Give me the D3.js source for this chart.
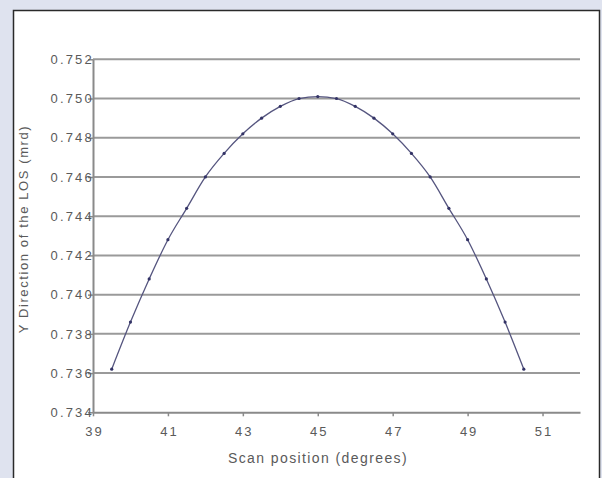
<!DOCTYPE html>
<html><head><meta charset="utf-8">
<script src="https://cdn.jsdelivr.net/npm/d3@7/dist/d3.min.js"></script>
<style>body{margin:0;background:#dfe3ef;}svg{display:block;}</style>
</head><body>
<script>
const scanPos = [39.5,40,40.5,41,41.5,42,42.5,43,43.5,44,44.5,45,45.5,46,46.5,47,47.5,48,48.5,49,49.5,50,50.5];
const losY = [0.7362,0.7386,0.7408,0.7428,0.7444,0.7460,0.7472,0.7482,0.7490,0.7496,0.7500,0.7501,0.7500,0.7496,0.7490,0.7482,0.7472,0.7460,0.7444,0.7428,0.7408,0.7386,0.7362];
const xTicks = [39,41,43,45,47,49,51];
const yTicks = [0.734,0.736,0.738,0.740,0.742,0.744,0.746,0.748,0.750,0.752];
const xTitle = "Scan position (degrees)";
const yTitle = "Y Direction of the LOS (mrd)";

const W=602,H=478;
const svg=d3.select("body").append("svg").attr("width",W).attr("height",H);
svg.append("rect").attr("width",W).attr("height",H).attr("fill","#dfe3ef");
svg.append("rect").attr("x",13.5).attr("y",10.5).attr("width",586).attr("height",480)
  .attr("fill","#fff").attr("stroke","#2a2a2a").attr("stroke-width",1.5);

const x=d3.scaleLinear().domain([39,52]).range([93,580]);
const y=d3.scaleLinear().domain([0.734,0.752]).range([412.3,59.3]);

// gridlines
svg.append("g").selectAll("line").data(yTicks.slice(1)).join("line")
  .attr("x1",x(39)).attr("x2",x(52)).attr("y1",d=>y(d)).attr("y2",d=>y(d))
  .attr("stroke","#9a9a9a").attr("stroke-width",2);

const font="'Liberation Sans', Arial, sans-serif";
const txt="#5a5a5a";
// y axis
const ya=svg.append("g").attr("transform",`translate(${x(39)},0)`)
  .call(d3.axisLeft(y).tickValues(yTicks).tickFormat(d3.format(".3f")).tickSize(5).tickSizeOuter(0));
ya.select(".domain").attr("stroke","#8a8a8a").attr("stroke-width",2);
ya.selectAll(".tick line").attr("stroke","#8a8a8a").attr("stroke-width",1.5);
ya.selectAll(".tick text").attr("fill",txt).attr("font-family",font).attr("font-size",13)
  .attr("letter-spacing","2.2px").attr("x",1);

// x axis
const xa=svg.append("g").attr("transform",`translate(0,${y(0.734)})`)
  .call(d3.axisBottom(x).tickValues(xTicks).tickFormat(d3.format("d")).tickSize(4).tickSizeOuter(0));
xa.select(".domain").attr("stroke","#8a8a8a").attr("stroke-width",2);
xa.selectAll(".tick line").attr("stroke","#8a8a8a").attr("stroke-width",1.5);
xa.selectAll(".tick text").attr("fill",txt).attr("font-family",font).attr("font-size",13)
  .attr("letter-spacing","2px").attr("x",1).attr("y",23.5).attr("dy",0);

// titles
svg.append("text").attr("x",318).attr("y",463).attr("text-anchor","middle")
  .attr("fill",txt).attr("font-family",font).attr("font-size",14).attr("letter-spacing","1.4px").text(xTitle);
svg.append("text").attr("transform","translate(28,229) rotate(-90)").attr("text-anchor","middle")
  .attr("fill",txt).attr("font-family",font).attr("font-size",13).attr("letter-spacing","1.6px").text(yTitle);

// line
const pts=scanPos.map((s,i)=>[s,losY[i]]);
svg.append("path").datum(pts)
  .attr("d",d3.line().x(d=>x(d[0])).y(d=>y(d[1])).curve(d3.curveMonotoneX))
  .attr("fill","none").attr("stroke","#55557f").attr("stroke-width",1.3);
svg.append("g").selectAll("circle").data(pts).join("circle")
  .attr("cx",d=>x(d[0])).attr("cy",d=>y(d[1])).attr("r",1.6).attr("fill","#333366");
</script>
</body></html>
